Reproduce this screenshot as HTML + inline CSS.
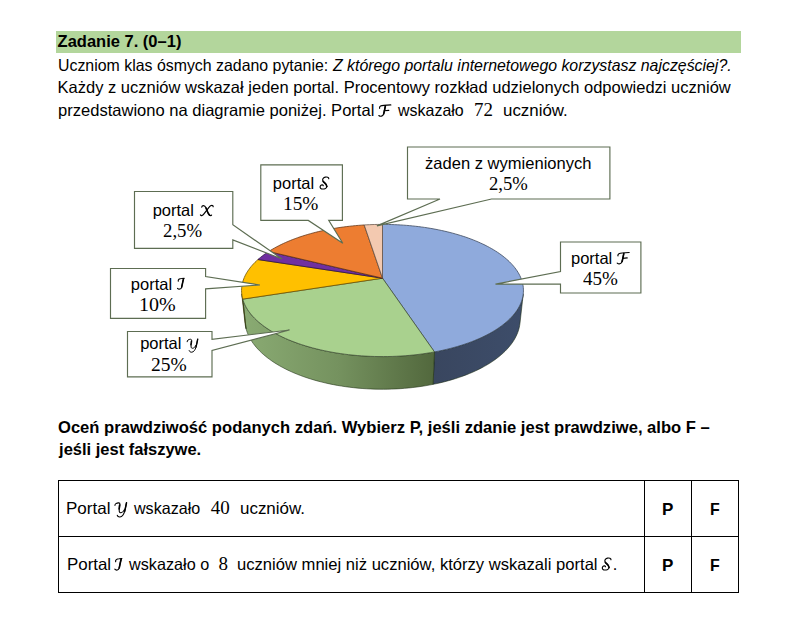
<!DOCTYPE html>
<html><head><meta charset="utf-8">
<style>
html,body{margin:0;padding:0;background:#fff;}
body{width:792px;height:623px;position:relative;overflow:hidden;color:#000;}
.t{position:absolute;white-space:nowrap;line-height:1;transform-origin:0 0;}
svg{position:absolute;left:0;top:0;}
.bar{position:absolute;left:56px;top:31px;width:685px;height:22px;background:#b3d69c;}
.tb{position:absolute;background:#000;}
</style></head><body>
<div class="bar"></div>
<svg width="792" height="623" viewBox="0 0 792 623">
<defs>
<linearGradient id="gGreen" gradientUnits="userSpaceOnUse" x1="242" y1="0" x2="434" y2="0">
<stop offset="0" stop-color="#8aab73"/><stop offset="0.5" stop-color="#75925f"/><stop offset="1" stop-color="#52683d"/></linearGradient>
<linearGradient id="gBlue" gradientUnits="userSpaceOnUse" x1="434" y1="0" x2="523" y2="0">
<stop offset="0" stop-color="#39465f"/><stop offset="1" stop-color="#3d4d6a"/></linearGradient>
</defs>
<polygon points="523.26,294.01 523.00,295.78 522.65,297.56 522.19,299.34 521.62,301.12 520.95,302.91 520.16,304.69 519.27,306.47 518.27,308.25 517.16,310.02 515.94,311.79 514.61,313.54 513.16,315.29 511.60,317.02 509.93,318.74 508.15,320.45 506.25,322.13 504.24,323.80 502.13,325.45 499.90,327.07 497.56,328.67 495.11,330.25 492.55,331.79 489.89,333.30 487.12,334.79 484.24,336.23 481.27,337.64 478.20,339.02 475.02,340.35 471.76,341.64 468.40,342.89 464.95,344.10 461.41,345.26 457.79,346.37 454.09,347.43 450.31,348.43 446.46,349.39 442.53,350.29 438.55,351.13 434.49,351.92 433.09,384.36 437.03,383.54 440.92,382.65 444.74,381.71 448.49,380.70 452.17,379.65 455.78,378.54 459.31,377.37 462.76,376.16 466.12,374.89 469.40,373.58 472.59,372.22 475.69,370.82 478.69,369.38 481.59,367.89 484.40,366.37 487.11,364.82 489.71,363.22 492.22,361.60 494.61,359.95 496.90,358.26 499.09,356.55 501.17,354.82 503.14,353.07 505.00,351.29 506.75,349.49 508.39,347.68 509.93,345.85 511.35,344.01 512.67,342.16 513.88,340.30 514.98,338.43 515.97,336.56 516.85,334.68 517.63,332.80 518.30,330.92 518.87,329.03 519.34,327.15 519.70,325.27 519.97,323.40" fill="url(#gBlue)" stroke="#16280c" stroke-opacity="0.6" stroke-width="0.9" stroke-linejoin="round"/>
<polygon points="434.49,351.92 430.44,352.64 426.33,353.31 422.18,353.91 417.98,354.46 413.74,354.94 409.47,355.36 405.17,355.72 400.84,356.02 396.49,356.26 392.13,356.43 387.76,356.54 383.38,356.58 379.00,356.56 374.62,356.48 370.25,356.33 365.90,356.12 361.56,355.85 357.25,355.51 352.96,355.12 348.71,354.66 344.50,354.14 340.32,353.56 336.20,352.92 332.12,352.22 328.10,351.46 324.14,350.65 320.24,349.79 316.40,348.87 312.64,347.90 308.95,346.87 305.34,345.80 301.81,344.68 298.36,343.52 295.00,342.31 291.72,341.05 288.54,339.76 285.45,338.42 282.46,337.05 279.57,335.64 276.77,334.20 274.08,332.73 271.49,331.22 269.00,329.69 266.63,328.12 264.35,326.54 262.19,324.93 260.13,323.29 258.18,321.64 256.34,319.97 254.61,318.28 252.99,316.58 251.48,314.87 250.08,313.14 248.79,311.41 247.61,309.66 246.53,307.91 245.56,306.16 244.70,304.40 243.95,302.64 243.30,300.88 242.75,299.12 246.06,328.80 246.61,330.66 247.26,332.52 248.01,334.37 248.87,336.23 249.83,338.08 250.89,339.93 252.06,341.76 253.34,343.59 254.72,345.41 256.21,347.22 257.80,349.01 259.50,350.79 261.31,352.55 263.22,354.29 265.24,356.00 267.36,357.70 269.58,359.37 271.91,361.01 274.35,362.63 276.88,364.21 279.51,365.76 282.24,367.28 285.07,368.75 287.99,370.20 291.01,371.60 294.11,372.96 297.31,374.27 300.59,375.54 303.95,376.77 307.40,377.94 310.92,379.07 314.51,380.14 318.18,381.16 321.91,382.12 325.71,383.03 329.57,383.88 333.48,384.67 337.45,385.41 341.47,386.08 345.53,386.69 349.63,387.23 353.77,387.71 357.94,388.13 362.13,388.48 366.35,388.77 370.59,388.99 374.83,389.14 379.09,389.23 383.35,389.25 387.61,389.20 391.87,389.09 396.11,388.91 400.34,388.66 404.55,388.35 408.73,387.97 412.89,387.53 417.01,387.02 421.10,386.45 425.14,385.82 429.14,385.12 433.09,384.36" fill="url(#gGreen)" stroke="#16280c" stroke-opacity="0.6" stroke-width="0.9" stroke-linejoin="round"/>
<polygon points="242.75,299.12 242.32,297.41 241.98,295.71 241.74,294.01 245.03,323.40 245.28,325.20 245.63,327.00 246.06,328.80" fill="#b38600" stroke="#16280c" stroke-opacity="0.6" stroke-width="0.9" stroke-linejoin="round"/>
<polygon points="382.50,278.20 382.50,224.40 385.53,224.42 388.56,224.46 391.58,224.54 394.61,224.65 397.62,224.78 400.64,224.95 403.64,225.15 406.64,225.38 409.63,225.64 412.61,225.93 415.58,226.25 418.54,226.60 421.48,226.98 424.41,227.39 427.32,227.83 430.22,228.30 433.10,228.81 435.96,229.34 438.80,229.90 441.62,230.50 444.42,231.12 447.19,231.77 449.94,232.46 452.66,233.17 455.35,233.91 458.01,234.69 460.65,235.49 463.25,236.32 465.82,237.18 468.35,238.07 470.85,238.99 473.31,239.94 475.73,240.92 478.11,241.93 480.45,242.97 482.75,244.03 485.00,245.12 487.20,246.24 489.36,247.39 491.47,248.57 493.52,249.77 495.53,251.00 497.48,252.26 499.37,253.54 501.20,254.85 502.98,256.19 504.69,257.55 506.34,258.93 507.93,260.34 509.45,261.77 510.90,263.23 512.29,264.71 513.60,266.21 514.83,267.73 515.99,269.28 517.08,270.84 518.08,272.42 519.01,274.02 519.85,275.65 520.61,277.28 521.28,278.94 521.87,280.61 522.37,282.29 522.77,283.99 523.08,285.70 523.30,287.42 523.43,289.16 523.45,290.90 523.38,292.65 523.21,294.41 522.93,296.17 522.56,297.94 522.08,299.71 521.49,301.48 520.80,303.26 520.00,305.03 519.10,306.80 518.08,308.57 516.96,310.33 515.72,312.08 514.38,313.82 512.92,315.56 511.36,317.28 509.68,318.99 507.89,320.68 505.99,322.36 503.98,324.01 501.86,325.65 499.63,327.26 497.29,328.85 494.85,330.41 492.29,331.94 489.63,333.44 486.87,334.91 484.01,336.35 481.04,337.75 477.98,339.11 474.82,340.44 471.57,341.72 468.22,342.96 464.79,344.15 461.27,345.30 457.66,346.40 453.98,347.46 450.22,348.46 446.39,349.40 442.49,350.30 438.52,351.14 434.49,351.92" fill="#8faadc" stroke="#394458" stroke-opacity="0.85" stroke-width="0.9" stroke-linejoin="round"/>
<polygon points="382.50,278.20 434.49,351.92 430.44,352.64 426.33,353.31 422.18,353.91 417.98,354.46 413.74,354.94 409.47,355.36 405.17,355.72 400.84,356.02 396.49,356.26 392.13,356.43 387.76,356.54 383.38,356.58 379.00,356.56 374.62,356.48 370.25,356.33 365.90,356.12 361.56,355.85 357.25,355.51 352.96,355.12 348.71,354.66 344.50,354.14 340.32,353.56 336.20,352.92 332.12,352.22 328.10,351.46 324.14,350.65 320.24,349.79 316.40,348.87 312.64,347.90 308.95,346.87 305.34,345.80 301.81,344.68 298.36,343.52 295.00,342.31 291.72,341.05 288.54,339.76 285.45,338.42 282.46,337.05 279.57,335.64 276.77,334.20 274.08,332.73 271.49,331.22 269.00,329.69 266.63,328.12 264.35,326.54 262.19,324.93 260.13,323.29 258.18,321.64 256.34,319.97 254.61,318.28 252.99,316.58 251.48,314.87 250.08,313.14 248.79,311.41 247.61,309.66 246.53,307.91 245.56,306.16 244.70,304.40 243.95,302.64 243.30,300.88 242.75,299.12" fill="#a9d18e" stroke="#435338" stroke-opacity="0.85" stroke-width="0.9" stroke-linejoin="round"/>
<polygon points="382.50,278.20 242.75,299.12 242.32,297.40 241.98,295.69 241.74,293.98 241.60,292.28 241.55,290.59 241.59,288.90 241.72,287.22 241.94,285.56 242.25,283.90 242.64,282.25 243.13,280.62 243.69,279.00 244.34,277.40 245.07,275.81 245.87,274.24 246.76,272.68 247.72,271.15 248.75,269.63 249.86,268.13 251.04,266.65 252.29,265.19 253.60,263.75 254.99,262.33 256.43,260.93 257.94,259.55" fill="#ffc000" stroke="#664c00" stroke-opacity="0.85" stroke-width="0.9" stroke-linejoin="round"/>
<polygon points="382.50,278.20 257.94,259.55 259.34,258.35 260.79,257.16 262.28,255.98 263.82,254.83 265.41,253.70 267.04,252.58 268.71,251.49" fill="#7030a0" stroke="#2c1340" stroke-opacity="0.85" stroke-width="0.9" stroke-linejoin="round"/>
<polygon points="382.50,278.20 268.71,251.49 270.65,250.27 272.65,249.08 274.70,247.91 276.80,246.77 278.94,245.66 281.13,244.57 283.36,243.51 285.64,242.48 287.95,241.47 290.31,240.50 292.70,239.55 295.13,238.63 297.60,237.73 300.10,236.87 302.63,236.03 305.20,235.23 307.79,234.45 310.42,233.70 313.07,232.97 315.75,232.28 318.45,231.62 321.18,230.98 323.93,230.38 326.70,229.80 329.50,229.25 332.31,228.73 335.14,228.24 337.99,227.78 340.85,227.35 343.73,226.95 346.62,226.58 349.52,226.24 352.44,225.92 355.36,225.64 358.30,225.38 361.25,225.16 364.20,224.96" fill="#ed7d31" stroke="#5e3213" stroke-opacity="0.85" stroke-width="0.9" stroke-linejoin="round"/>
<polygon points="382.50,278.20 364.20,224.96 366.80,224.81 369.41,224.69 372.03,224.58 374.64,224.50 377.26,224.45 379.88,224.41 382.50,224.40" fill="#f3c9b0" stroke="#615046" stroke-opacity="0.85" stroke-width="0.9" stroke-linejoin="round"/>
<path d="M260.8,164.8 H342.4 V220.4 H328.7 L342.8,243.3 L308.3,220.4 H260.8 Z" fill="#fff" stroke="#5d6d52" stroke-width="1.15" stroke-linejoin="miter"/>
<path d="M134.5,191.5 H232.8 V224.8 L282,259 L232.8,239.9 V248.4 H134.5 Z" fill="#fff" stroke="#5d6d52" stroke-width="1.15" stroke-linejoin="miter"/>
<path d="M110.5,268.5 H205.6 V276.5 L259.9,285 L205.6,288.9 V318.3 H110.5 Z" fill="#fff" stroke="#5d6d52" stroke-width="1.15" stroke-linejoin="miter"/>
<path d="M127.5,331.5 H212 V339.3 L289.5,330 L212,350.5 V376.9 H127.5 Z" fill="#fff" stroke="#5d6d52" stroke-width="1.15" stroke-linejoin="miter"/>
<path d="M407.5,147 H609.9 V199 H491.5 L376.9,225.9 L440,199 H407.5 Z" fill="#fff" stroke="#5d6d52" stroke-width="1.15" stroke-linejoin="miter"/>
<path d="M560.5,242 H640.9 V293 H560.5 V284.1 L495.5,284.1 L560.5,271.6 Z" fill="#fff" stroke="#5d6d52" stroke-width="1.15" stroke-linejoin="miter"/>
</svg>
<div class="tb" style="left:58px;top:480px;width:681px;height:1.3px"></div>
<div class="tb" style="left:58px;top:536px;width:681px;height:1.3px"></div>
<div class="tb" style="left:58px;top:591.5px;width:681px;height:1.3px"></div>
<div class="tb" style="left:58px;top:480px;width:1.3px;height:112.8px"></div>
<div class="tb" style="left:644px;top:480px;width:1.3px;height:112.8px"></div>
<div class="tb" style="left:691px;top:480px;width:1.3px;height:112.8px"></div>
<div class="tb" style="left:738px;top:480px;width:1.3px;height:112.8px"></div>
<div class="t" style="left:57.60px;top:33.00px;font-family:'Liberation Sans', sans-serif;font-size:16.5px;font-weight:bold;">Zadanie 7. (0–1)</div>
<div class="t" style="left:57.60px;top:57.00px;font-family:'Liberation Sans', sans-serif;font-size:16.5px;;transform:scaleX(0.9629);">Uczniom klas ósmych zadano pytanie:</div>
<div class="t" style="left:332.84px;top:57.00px;font-family:'Liberation Sans', sans-serif;font-size:16.5px;;transform:scaleX(0.9616);"><i>Z którego portalu internetowego korzystasz najczęściej?.</i></div>
<div class="t" style="left:57.55px;top:79.00px;font-family:'Liberation Sans', sans-serif;font-size:16.5px;;">Każdy z uczniów wskazał jeden portal. Procentowy rozkład udzielonych odpowiedzi uczniów</div>
<div class="t" style="left:57.80px;top:102.00px;font-family:'Liberation Sans', sans-serif;font-size:16.5px;;transform:scaleX(1.0026);">przedstawiono na diagramie poniżej. Portal</div>
<div class="t" style="left:397.60px;top:102.00px;font-family:'Liberation Sans', sans-serif;font-size:16.5px;;transform:scaleX(0.9680);">wskazało</div>
<div class="t" style="left:473.55px;top:100.00px;font-family:'Liberation Serif', serif;font-size:19px;;transform:scaleX(0.9970);">72</div>
<div class="t" style="left:502.58px;top:102.00px;font-family:'Liberation Sans', sans-serif;font-size:16.5px;;transform:scaleX(1.0239);">uczniów.</div>
<div class="t" style="left:272.80px;top:175.00px;font-family:'Liberation Sans', sans-serif;font-size:16.5px;;">portal</div>
<div class="t" style="left:283.18px;top:194.00px;font-family:'Liberation Serif', serif;font-size:19.7px;;transform:scaleX(0.9807);">15%</div>
<div class="t" style="left:152.70px;top:202.00px;font-family:'Liberation Sans', sans-serif;font-size:16.5px;;">portal</div>
<div class="t" style="left:163.38px;top:221.00px;font-family:'Liberation Serif', serif;font-size:19.7px;;transform:scaleX(0.9535);">2,5%</div>
<div class="t" style="left:130.80px;top:276.00px;font-family:'Liberation Sans', sans-serif;font-size:16.5px;;">portal</div>
<div class="t" style="left:139.02px;top:295.00px;font-family:'Liberation Serif', serif;font-size:19.7px;;transform:scaleX(1.0163);">10%</div>
<div class="t" style="left:140.20px;top:335.00px;font-family:'Liberation Sans', sans-serif;font-size:16.5px;;">portal</div>
<div class="t" style="left:151.16px;top:355.00px;font-family:'Liberation Serif', serif;font-size:19.7px;;transform:scaleX(0.9899);">25%</div>
<div class="t" style="left:425.45px;top:155.00px;font-family:'Liberation Sans', sans-serif;font-size:16.5px;;transform:scaleX(1.0033);">żaden z wymienionych</div>
<div class="t" style="left:488.59px;top:174.00px;font-family:'Liberation Serif', serif;font-size:19.7px;;transform:scaleX(0.9459);">2,5%</div>
<div class="t" style="left:571.00px;top:250.00px;font-family:'Liberation Sans', sans-serif;font-size:16.5px;;">portal</div>
<div class="t" style="left:583.16px;top:269.00px;font-family:'Liberation Serif', serif;font-size:19.7px;;transform:scaleX(0.9674);">45%</div>
<div class="t" style="left:58.05px;top:419.00px;font-family:'Liberation Sans', sans-serif;font-size:16.5px;font-weight:bold;transform:scaleX(1.0049);">Oceń prawdziwość podanych zdań. Wybierz P, jeśli zdanie jest prawdziwe, albo F –</div>
<div class="t" style="left:59.05px;top:441.00px;font-family:'Liberation Sans', sans-serif;font-size:16.5px;font-weight:bold;">jeśli jest fałszywe.</div>
<div class="t" style="left:65.91px;top:500.00px;font-family:'Liberation Sans', sans-serif;font-size:16.5px;;transform:scaleX(1.0307);">Portal</div>
<div class="t" style="left:133.90px;top:500.00px;font-family:'Liberation Sans', sans-serif;font-size:16.5px;;transform:scaleX(0.9755);">wskazało</div>
<div class="t" style="left:210.75px;top:498.00px;font-family:'Liberation Serif', serif;font-size:19px;;">40</div>
<div class="t" style="left:239.57px;top:500.00px;font-family:'Liberation Sans', sans-serif;font-size:16.5px;;transform:scaleX(1.0272);">uczniów.</div>
<div class="t" style="left:66.52px;top:556.00px;font-family:'Liberation Sans', sans-serif;font-size:16.5px;;transform:scaleX(1.0233);">Portal</div>
<div class="t" style="left:128.90px;top:556.00px;font-family:'Liberation Sans', sans-serif;font-size:16.5px;;transform:scaleX(0.9827);">wskazało o</div>
<div class="t" style="left:218.55px;top:554.00px;font-family:'Liberation Serif', serif;font-size:19px;;">8</div>
<div class="t" style="left:237.49px;top:556.00px;font-family:'Liberation Sans', sans-serif;font-size:16.5px;;transform:scaleX(1.0056);">uczniów mniej niż uczniów, którzy wskazali portal</div>
<div class="t" style="left:612.80px;top:556.00px;font-family:'Liberation Sans', sans-serif;font-size:16.5px;;">.</div>
<div class="t" style="left:661.77px;top:501.00px;font-family:'Liberation Sans', sans-serif;font-size:16.5px;font-weight:bold;transform:scaleX(1.0316);">P</div>
<div class="t" style="left:709.84px;top:501.00px;font-family:'Liberation Sans', sans-serif;font-size:16.5px;font-weight:bold;transform:scaleX(0.9647);">F</div>
<div class="t" style="left:661.77px;top:557.00px;font-family:'Liberation Sans', sans-serif;font-size:16.5px;font-weight:bold;transform:scaleX(1.0316);">P</div>
<div class="t" style="left:709.84px;top:557.00px;font-family:'Liberation Sans', sans-serif;font-size:16.5px;font-weight:bold;transform:scaleX(0.9647);">F</div>
<svg width="792" height="623" viewBox="0 0 792 623">
<g transform="translate(378.50,116.00) scale(0.03852) translate(-120,-415)" fill="none" stroke="#000" stroke-linecap="round"><path d="M148,215 C135,160 190,140 260,140 C320,140 380,135 440,128" stroke-width="30"/><path d="M300,142 C285,220 270,310 250,370 C230,425 170,435 128,402" stroke-width="30"/><path d="M268,280 L388,268" stroke-width="30"/><path d="M298,160 C285,230 272,300 255,360" stroke-width="42"/></g>
<g transform="translate(114.70,513.70) scale(0.03582) translate(-165,-363)" fill="none" stroke="#000" stroke-linecap="round"><path d="M172,135 C165,92 215,58 280,60 C325,64 318,130 300,205 C282,290 290,340 340,335 C385,330 418,292 436,250" stroke-width="30"/><path d="M300,120 C295,150 290,180 285,230" stroke-width="40"/><path d="M494,58 C482,120 462,220 442,300 C418,390 372,450 312,455 C272,458 242,435 234,405" stroke-width="30"/><path d="M494,60 C482,120 462,220 442,300" stroke-width="42"/></g>
<g transform="translate(114.50,570.40) scale(0.03852) translate(-170,-360)" fill="none" stroke="#000" stroke-linecap="round"><path d="M200,135 C185,90 230,58 290,58 L362,52" stroke-width="30"/><path d="M345,58 C320,150 305,240 290,300 C275,350 215,370 178,328" stroke-width="30"/><path d="M342,70 C322,150 308,230 293,295" stroke-width="42"/></g>
<g transform="translate(602.00,569.80) scale(0.03852) translate(-255,-430)" fill="none" stroke="#000" stroke-linecap="round"><path d="M488,170 C492,130 440,118 395,128 C340,140 310,190 340,235 C370,275 445,310 440,370 C435,425 360,445 300,432 C260,420 250,370 280,340 C305,318 345,325 345,350" stroke-width="30"/><path d="M345,240 C375,275 440,310 438,370" stroke-width="44"/></g>
<g transform="translate(319.80,188.80) scale(0.03852) translate(-255,-430)" fill="none" stroke="#000" stroke-linecap="round"><path d="M488,170 C492,130 440,118 395,128 C340,140 310,190 340,235 C370,275 445,310 440,370 C435,425 360,445 300,432 C260,420 250,370 280,340 C305,318 345,325 345,350" stroke-width="30"/><path d="M345,240 C375,275 440,310 438,370" stroke-width="44"/></g>
<g transform="translate(200.30,215.80) scale(0.03852) translate(-255,-501)" fill="none" stroke="#000" stroke-linecap="round"><path d="M292,275 C300,225 370,215 400,290 C430,380 460,470 510,495 C530,503 545,490 548,480" stroke-width="30"/><path d="M590,265 C590,220 530,215 490,270 L360,440 C320,495 280,510 258,478" stroke-width="30"/><path d="M405,300 C432,380 458,450 495,485" stroke-width="42"/></g>
<g transform="translate(177.20,289.50) scale(0.03659) translate(-170,-360)" fill="none" stroke="#000" stroke-linecap="round"><path d="M200,135 C185,90 230,58 290,58 L362,52" stroke-width="30"/><path d="M345,58 C320,150 305,240 290,300 C275,350 215,370 178,328" stroke-width="30"/><path d="M342,70 C322,150 308,230 293,295" stroke-width="42"/></g>
<g transform="translate(186.90,349.20) scale(0.03274) translate(-165,-363)" fill="none" stroke="#000" stroke-linecap="round"><path d="M172,135 C165,92 215,58 280,60 C325,64 318,130 300,205 C282,290 290,340 340,335 C385,330 418,292 436,250" stroke-width="30"/><path d="M300,120 C295,150 290,180 285,230" stroke-width="40"/><path d="M494,58 C482,120 462,220 442,300 C418,390 372,450 312,455 C272,458 242,435 234,405" stroke-width="30"/><path d="M494,60 C482,120 462,220 442,300" stroke-width="42"/></g>
<g transform="translate(616.90,263.60) scale(0.03852) translate(-120,-415)" fill="none" stroke="#000" stroke-linecap="round"><path d="M148,215 C135,160 190,140 260,140 C320,140 380,135 440,128" stroke-width="30"/><path d="M300,142 C285,220 270,310 250,370 C230,425 170,435 128,402" stroke-width="30"/><path d="M268,280 L388,268" stroke-width="30"/><path d="M298,160 C285,230 272,300 255,360" stroke-width="42"/></g>
</svg>
</body></html>
